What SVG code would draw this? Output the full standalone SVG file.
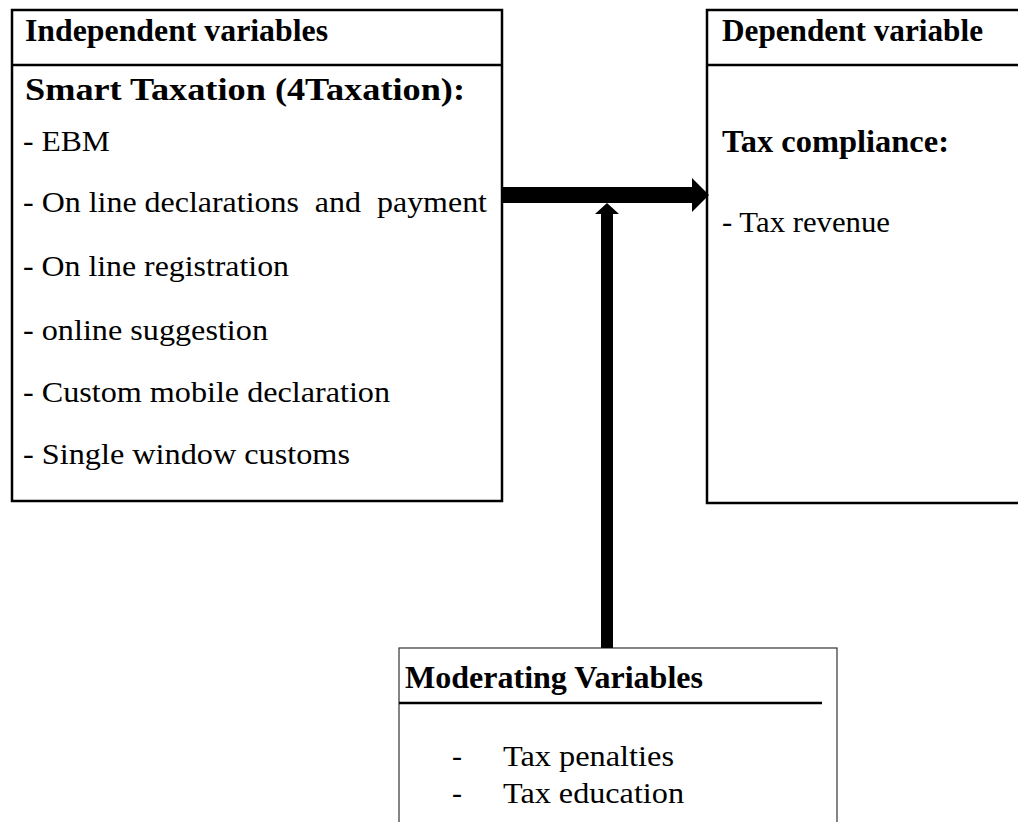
<svg xmlns="http://www.w3.org/2000/svg" width="1018" height="822" viewBox="0 0 1018 822">
  <style>
    .box { fill: #ffffff; stroke: #000000; stroke-width: 2.5; }
    .thin { fill: #ffffff; stroke: #333333; stroke-width: 1.2; }
    .rule { stroke: #000000; stroke-width: 2.5; }
    .head { font-family: "Liberation Serif", "Times New Roman", serif; font-size: 32px; font-weight: bold; fill: #000000; }
    .item { font-family: "Liberation Serif", "Times New Roman", serif; font-size: 30px; fill: #000000; }
    .conn { fill: #000000; stroke: none; }
  </style>

  <rect width="1018" height="822" fill="#ffffff"/>

  <!-- Independent variables -->
  <g id="independent">
    <rect class="box" x="12" y="10" width="490" height="491"/>
    <line class="rule" x1="12" y1="65" x2="502" y2="65"/>
    <text class="head" x="25" y="41" textLength="303" lengthAdjust="spacingAndGlyphs">Independent variables</text>
    <text class="head" x="25" y="100" textLength="440" lengthAdjust="spacingAndGlyphs">Smart Taxation (4Taxation):</text>
    <text class="item" x="23" y="151" textLength="87" lengthAdjust="spacingAndGlyphs">- EBM</text>
    <text class="item" x="23" y="212" textLength="464" lengthAdjust="spacingAndGlyphs" xml:space="preserve">- On line declarations  and  payment</text>
    <text class="item" x="23" y="276" textLength="266" lengthAdjust="spacingAndGlyphs">- On line registration</text>
    <text class="item" x="23" y="340" textLength="245" lengthAdjust="spacingAndGlyphs">- online suggestion</text>
    <text class="item" x="23" y="402" textLength="367" lengthAdjust="spacingAndGlyphs">- Custom mobile declaration</text>
    <text class="item" x="23" y="464" textLength="327" lengthAdjust="spacingAndGlyphs">- Single window customs</text>
  </g>

  <!-- Dependent variable -->
  <g id="dependent">
    <rect class="box" x="707" y="10" width="330" height="493"/>
    <line class="rule" x1="707" y1="65" x2="1018" y2="65"/>
    <text class="head" x="722" y="41" textLength="261" lengthAdjust="spacingAndGlyphs">Dependent variable</text>
    <text class="head" x="722" y="152" textLength="227" lengthAdjust="spacingAndGlyphs">Tax compliance:</text>
    <text class="item" x="722" y="232" textLength="168" lengthAdjust="spacingAndGlyphs">- Tax revenue</text>
  </g>

  <!-- Moderating variables -->
  <g id="moderating">
    <rect class="thin" x="399" y="648" width="438" height="200"/>
    <line class="rule" x1="399" y1="703" x2="822" y2="703"/>
    <text class="head" x="405" y="688" textLength="298" lengthAdjust="spacingAndGlyphs">Moderating Variables</text>
    <text class="item" x="452" y="766">-</text>
    <text class="item" x="503" y="766" textLength="171" lengthAdjust="spacingAndGlyphs">Tax penalties</text>
    <text class="item" x="452" y="803">-</text>
    <text class="item" x="503" y="803" textLength="181" lengthAdjust="spacingAndGlyphs">Tax education</text>
  </g>

  <!-- Connectors: block arrows -->
  <g id="connectors">
    <!-- independent to dependent -->
    <polygon class="conn" points="502,187 692,187 692,178 709,195 692,212 692,203 502,203"/>
    <!-- moderating into the main arrow -->
    <polygon class="conn" points="601,648 601,214 595,214 607,203 619,214 613,214 613,648"/>
  </g>
</svg>
